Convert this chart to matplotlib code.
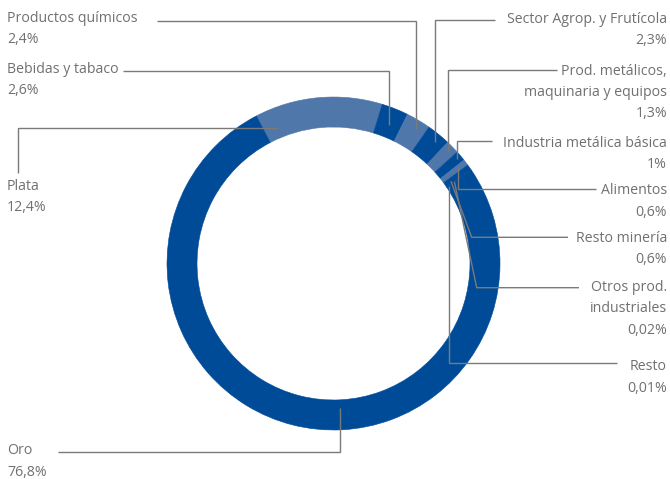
import numpy as np
import matplotlib.pyplot as plt

plt.rcParams['font.family'] = ['Open Sans', 'DejaVu Sans']

# sectores en orden de dibujo (sentido horario desde Plata)
sectores = ["Plata", "Bebidas y tabaco", "Productos químicos", "Sector Agrop. y Frutícola",
            "Prod. metálicos,\nmaquinaria y equipos", "Industria metálica básica",
            "Alimentos", "Resto minería", "Otros prod.\nindustriales", "Resto", "Oro"]
valores = [12.4, 2.6, 2.4, 2.3, 1.3, 1.0, 0.6, 0.6, 0.02, 0.01, 76.8]
etiquetas_pct = ["12,4%", "2,6%", "2,4%", "2,3%", "1,3%", "1%", "0,6%", "0,6%", "0,02%", "0,01%", "76,8%"]

oscuro = '#004b98'
claro = '#5077a9'
colores = [claro, oscuro, claro, oscuro, claro, oscuro, claro, oscuro, claro, oscuro, oscuro]
gris_txt = '#707070'
gris_lin = '#7a7a7a'

cx, cy = 333.5, 263.5
R, ancho = 166.5, 30
inicio = -27.6  # grados, horario desde arriba

fig = plt.figure(figsize=(6.7, 4.79), dpi=100)
ax = fig.add_axes([0, 0, 1, 1])

# eje y invertido: el sentido se espeja
ax.pie(valores, colors=colores, center=(cx, cy), radius=R, counterclock=True,
       startangle=-(90 - inicio),
       wedgeprops=dict(width=ancho, linewidth=0.4))
for w, c in zip(ax.patches, colores):
    w.set_edgecolor(c)
ax.set_xlim(0, 670)
ax.set_ylim(479, 0)
ax.set_aspect('equal')
ax.axis('off')

total = sum(valores)
acum = np.concatenate([[0], np.cumsum(valores)[:-1]])

# (frac dentro del sector, radio ancla, y de la línea, x final, x codo, lado, x texto, y texto)
guias = {
    "Plata": (0.117, 146, None, 18.3, None, 'l', 7, 185),
    "Bebidas y tabaco": (0.5, 149.6, 70.7, 123.3, None, 'l', 7, 68.3),
    "Productos químicos": (0.6, 157.8, 20.7, 156.7, None, 'l', 7, 17.3),
    "Sector Agrop. y Frutícola": (0.6, 158.2, 20, 495, None, 'r', 667, 18),
    "Prod. metálicos,\nmaquinaria y equipos": (0.5, 160.5, 70, 556.7, None, 'r', 667, 70),
    "Industria metálica básica": (0.5, 161.7, 141, 491.7, None, 'r', 667, 142.7),
    "Alimentos": (0.3, 158, 189, 596, None, 'r', 667, 190),
    "Resto minería": (0.6, 143.4, 237.3, 568, 471.7, 'r', 667, 237.3),
    "Otros prod.\nindustriales": (0.5, 146, 287.7, 579, 476.7, 'r', 667, 286.7),
    "Resto": (0.5, 139, 363.3, 616.7, None, 'r', 667, 366),
    "Oro": (0.44, 145, 451.7, 58, None, 'l', 7, 450),
}

paso = 21.3
for i, nombre in enumerate(sectores):
    frac, ra, yl, xf, xk, lado, xt, yt = guias[nombre]
    a = np.radians(inicio + 360 * (acum[i] + frac * valores[i]) / total)
    ax0 = cx + ra * np.sin(a)
    ay0 = cy - ra * np.cos(a)
    if nombre == "Plata":
        xs = [ax0, xf, xf]
        ys = [ay0, ay0, 173]
    else:
        xk = ax0 if xk is None else xk
        xs = [ax0, xk, xf]
        ys = [ay0, yl, yl]
    ax.plot(xs, ys, color=gris_lin, lw=1.0, solid_capstyle='butt', solid_joinstyle='miter')

    lineas = nombre.split("\n") + [etiquetas_pct[i]]
    ha = 'left' if lado == 'l' else 'right'
    for k, t in enumerate(lineas):
        ax.text(xt, yt + 1 + k * paso, t, ha=ha, va='center', fontsize=10.2, color=gris_txt)

fig.savefig("out.png", dpi=100)
